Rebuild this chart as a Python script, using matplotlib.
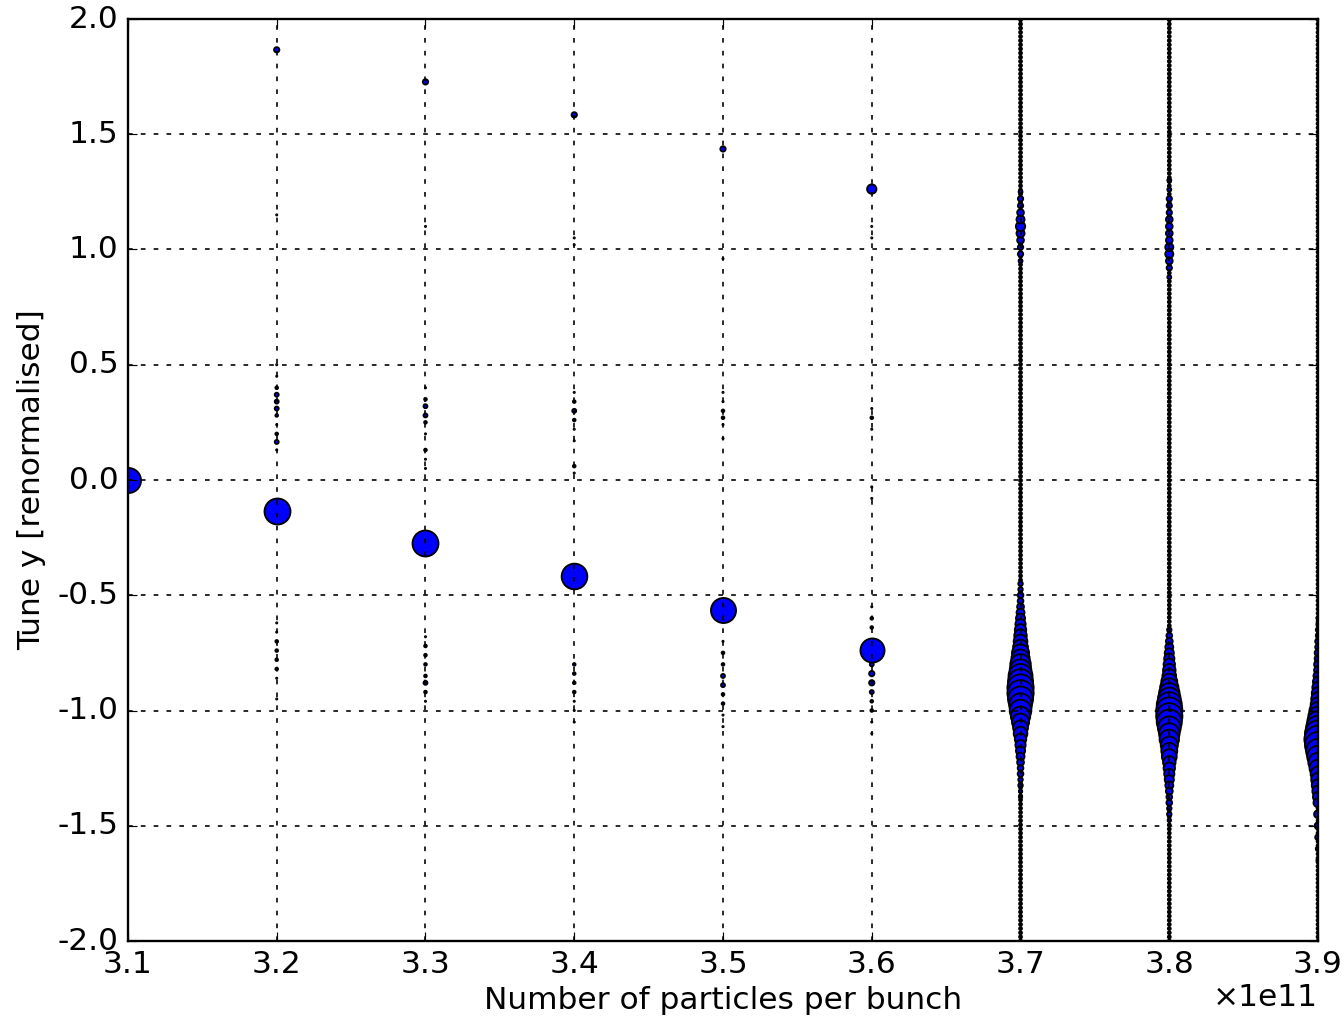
import numpy as np
import matplotlib
matplotlib.use("Agg")
import matplotlib.pyplot as plt
from matplotlib.ticker import FuncFormatter

# bunch intensities scanned
intensity = np.array([3.1, 3.2, 3.3, 3.4, 3.5, 3.6, 3.7, 3.8, 3.9]) * 1e11

# dominant coherent line below threshold (tune, amplitude)
main_tune = [0.0, -0.134, -0.273, -0.416, -0.564, -0.738]
main_amp = [0.80, 0.86, 0.86, 0.84, 0.80, 0.74]

# aliased / weak side lines for 3.2 ... 3.6
side_tune_32 = [1.866, 1.15, 0.50, 0.45, 0.40, 0.37, 0.34, 0.31, 0.28, 0.24, 0.20, 0.165, 0.13,
                -0.62, -0.66, -0.70, -0.74, -0.78, -0.82, -0.86, -0.95]
side_amp_32 = [0.020, 0.001, 0.001, 0.001, 0.005, 0.011, 0.011, 0.011, 0.005, 0.001, 0.005, 0.011, 0.001,
               0.001, 0.001, 0.005, 0.005, 0.005, 0.005, 0.001, 0.001]
side_tune_33 = [1.727, 1.10, 0.40, 0.35, 0.32, 0.28, 0.25, 0.20, 0.13, 0.09, 0.05,
                -0.68, -0.72, -0.76, -0.80, -0.85, -0.88, -0.92, -0.96]
side_amp_33 = [0.020, 0.001, 0.001, 0.005, 0.011, 0.011, 0.005, 0.001, 0.005, 0.001, 0.001,
               0.001, 0.005, 0.005, 0.005, 0.005, 0.011, 0.005, 0.001]
side_tune_34 = [1.584, 1.05, 1.02, 0.38, 0.34, 0.30, 0.26, 0.22, 0.17, 0.06, 0.03,
                -0.80, -0.84, -0.88, -0.92, -0.96, -1.00, -1.05]
side_amp_34 = [0.020, 0.001, 0.001, 0.001, 0.005, 0.011, 0.005, 0.001, 0.001, 0.005, 0.001,
               0.005, 0.005, 0.005, 0.005, 0.001, 0.001, 0.001]
side_tune_35 = [1.436, 0.96, 0.38, 0.34, 0.30, 0.27, 0.24, 0.18,
                -0.70, -0.75, -0.80, -0.85, -0.89, -0.93, -0.97, -1.02, -1.07]
side_amp_35 = [0.020, 0.001, 0.001, 0.001, 0.005, 0.005, 0.001, 0.001,
               0.001, 0.005, 0.005, 0.011, 0.011, 0.005, 0.005, 0.001, 0.001]
side_tune_36 = [1.262, 1.10, 1.05, 0.31, 0.27, 0.22, -0.03, -0.08, -0.55, -0.60, -0.64,
                -0.80, -0.84, -0.88, -0.92, -0.96, -1.00, -1.05, -1.10]
side_amp_36 = [0.062, 0.001, 0.001, 0.001, 0.005, 0.001, 0.001, 0.001, 0.001, 0.005, 0.005,
               0.011, 0.020, 0.020, 0.011, 0.005, 0.005, 0.001, 0.001]

# upper clusters above threshold
side_tune_37 = [0.95, 0.98, 1.01, 1.04, 1.07, 1.10, 1.13, 1.16, 1.19, 1.22, 1.25]
side_amp_37 = [0.011, 0.020, 0.020, 0.032, 0.046, 0.062, 0.046, 0.032, 0.020, 0.020, 0.011]
side_tune_38 = [0.88, 0.92, 0.95, 0.98, 1.01, 1.04, 1.07, 1.10, 1.13, 1.16, 1.19, 1.22, 1.26, 1.30]
side_amp_38 = [0.011, 0.020, 0.032, 0.046, 0.046, 0.032, 0.032, 0.032, 0.032, 0.020, 0.020, 0.020,
               0.011, 0.011]

# spread of the merged mode above threshold
spindle_tune_37 = [-0.450, -0.475, -0.500, -0.525, -0.550, -0.575, -0.600, -0.625, -0.650, -0.675,
                   -0.700, -0.725, -0.750, -0.775, -0.800, -0.825, -0.850, -0.875, -0.900, -0.925,
                   -0.950, -0.975, -1.000, -1.025, -1.050, -1.075, -1.100, -1.125, -1.150, -1.175,
                   -1.200, -1.225, -1.250, -1.275, -1.300, -1.325, -1.350, -1.375]
spindle_amp_37 = [0.020, 0.020, 0.032, 0.032, 0.046, 0.062, 0.082, 0.103, 0.128, 0.154,
                  0.184, 0.216, 0.287, 0.327, 0.413, 0.460, 0.563, 0.617, 0.675, 0.675,
                  0.617, 0.510, 0.460, 0.369, 0.287, 0.216, 0.184, 0.128, 0.103, 0.082,
                  0.062, 0.046, 0.032, 0.032, 0.020, 0.020, 0.011, 0.011]
spindle_tune_38 = [-0.650, -0.675, -0.700, -0.725, -0.750, -0.775, -0.800, -0.825, -0.850, -0.875,
                   -0.900, -0.925, -0.950, -0.975, -1.000, -1.025, -1.050, -1.075, -1.100, -1.125,
                   -1.150, -1.175, -1.200, -1.225, -1.250, -1.275, -1.300, -1.325, -1.350, -1.375,
                   -1.400, -1.425, -1.450, -1.475]
spindle_amp_38 = [0.020, 0.032, 0.046, 0.062, 0.082, 0.103, 0.128, 0.154, 0.184, 0.250,
                  0.327, 0.413, 0.510, 0.617, 0.675, 0.675, 0.617, 0.510, 0.413, 0.369,
                  0.287, 0.250, 0.216, 0.154, 0.128, 0.103, 0.082, 0.062, 0.046, 0.032,
                  0.032, 0.020, 0.020, 0.011]
spindle_tune_39 = [-0.600, -0.625, -0.650, -0.675, -0.700, -0.725, -0.750, -0.775, -0.800, -0.825,
                   -0.850, -0.875, -0.900, -0.925, -0.950, -0.975, -1.000, -1.025, -1.050, -1.075,
                   -1.100, -1.125, -1.150, -1.175, -1.200, -1.225, -1.250, -1.275, -1.300, -1.325,
                   -1.350, -1.375, -1.400, -1.450, -1.500, -1.550, -1.600, -1.650]
spindle_amp_39 = [0.011, 0.011, 0.020, 0.020, 0.032, 0.032, 0.046, 0.046, 0.062, 0.062,
                  0.082, 0.103, 0.128, 0.154, 0.184, 0.216, 0.287, 0.369, 0.460, 0.563,
                  0.675, 0.735, 0.675, 0.563, 0.460, 0.369, 0.287, 0.216, 0.184, 0.154,
                  0.128, 0.103, 0.082, 0.062, 0.046, 0.032, 0.020, 0.011]

# noise floor of the spectrum per intensity, sampled on the FFT tune bins
noise_floor = [0, 0, 0, 0, 0, 0, 0.009, 0.009, 0.009]
tune_bins = np.arange(-2.0, 2.0001, 0.018)

AREA = 144.0        # marker area (pt^2) for unit amplitude
SPINDLE_GAIN = 1.3  # spread lines were drawn a bit larger
SIDE_GAIN = 1.8
FS = 13.4

plt.style.use("classic")
plt.rcParams["axes.unicode_minus"] = False
plt.rcParams["font.size"] = FS

fig = plt.figure(figsize=(8, 6.054), dpi=168)
ax = fig.add_axes([0.0952, 0.0747, 0.8855, 0.9066])


def dots(x, tunes, amps, gain=1.0, lw=0.8):
    ax.scatter(np.full(len(tunes), x), tunes, s=np.asarray(amps) * AREA * gain,
               c="b", edgecolors="k", linewidths=lw)


for x, floor in zip(intensity, noise_floor):
    if floor > 0:
        dots(x, tune_bins, np.full(len(tune_bins), floor), lw=0.9)

sides = [(side_tune_32, side_amp_32), (side_tune_33, side_amp_33), (side_tune_34, side_amp_34),
         (side_tune_35, side_amp_35), (side_tune_36, side_amp_36), (side_tune_37, side_amp_37),
         (side_tune_38, side_amp_38)]
for x, (t, a) in zip(intensity[1:], sides):
    dots(x, t, a, SIDE_GAIN)

for x, t, a in zip(intensity[:6], main_tune, main_amp):
    dots(x, [t], [a])

for x, t, a in zip(intensity[6:], [spindle_tune_37, spindle_tune_38, spindle_tune_39],
                   [spindle_amp_37, spindle_amp_38, spindle_amp_39]):
    dots(x, t, a, SPINDLE_GAIN)

ax.set_xlim(intensity[0], intensity[-1])
ax.set_ylim(-2.0, 2.0)
ax.set_xticks(intensity)
ax.set_yticks(np.arange(-2.0, 2.01, 0.5))
ax.xaxis.set_major_formatter(FuncFormatter(lambda v, p: "%.1f" % (v / 1e11)))
ax.yaxis.set_major_formatter(FuncFormatter(lambda v, p: "%.1f" % v))
ax.tick_params(labelsize=FS)
ax.set_axisbelow(False)
ax.grid(True, color="k", linestyle=(0, (2.0, 3.5)), linewidth=0.7)

ax.set_xlabel("Number of particles per bunch", fontsize=FS, labelpad=3)
ax.set_ylabel("Tune y [renormalised]", fontsize=FS, labelpad=5)
ax.text(1.0, -0.045, "\u00d71e11", transform=ax.transAxes, ha="right", va="top", fontsize=FS)

fig.savefig("out.png", dpi=168)
